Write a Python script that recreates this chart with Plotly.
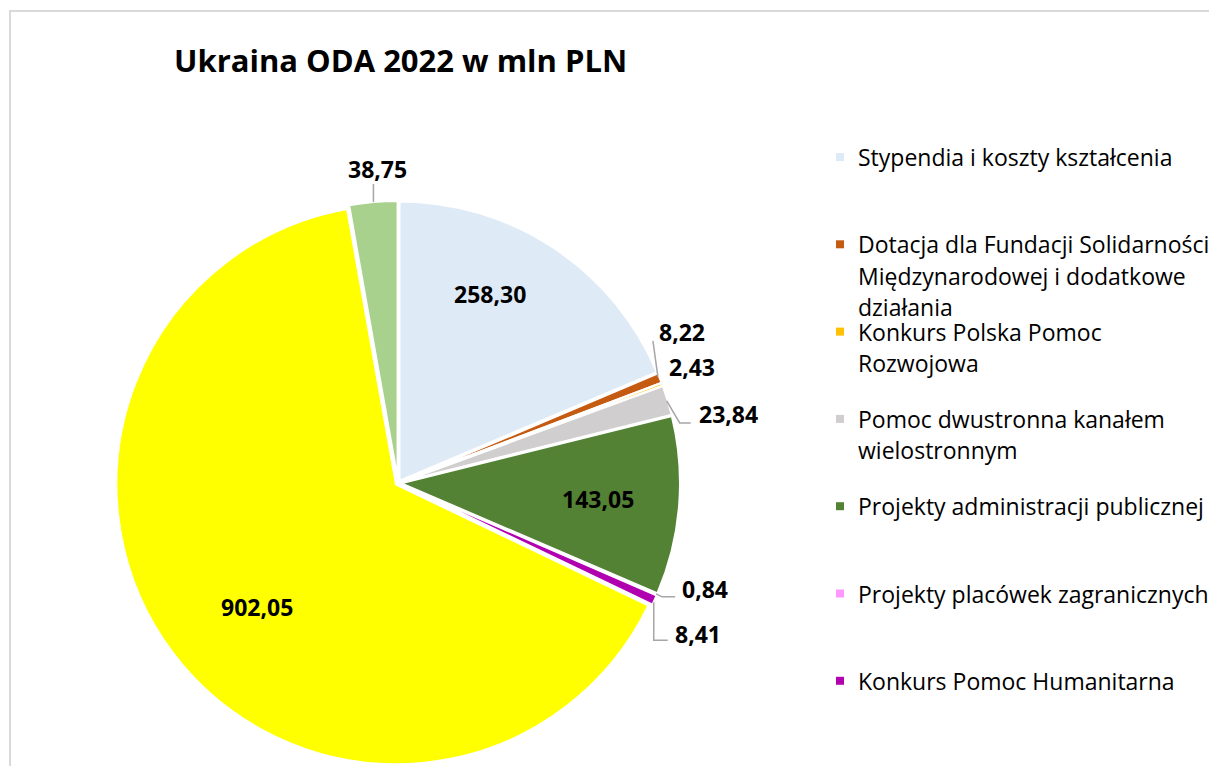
import math
import plotly.graph_objects as go

# ---------------- data ----------------
categories = [
    "Stypendia i koszty kształcenia",
    "Dotacja dla Fundacji Solidarności<br>Międzynarodowej i dodatkowe<br>działania",
    "Konkurs Polska Pomoc<br>Rozwojowa",
    "Pomoc dwustronna kanałem<br>wielostronnym",
    "Projekty administracji publicznej",
    "Projekty placówek zagranicznych",
    "Konkurs Pomoc Humanitarna",
    "Pozostała pomoc",
    "Inne działania",
]
values = [258.30, 8.22, 2.43, 23.84, 143.05, 0.84, 8.41, 902.05, 38.75]
colors = ["#DEEBF7", "#C55A11", "#FFC000", "#D0CECE", "#548235",
          "#FF99FF", "#B000B0", "#FFFF00", "#A9D18E"]
title_text = "Ukraina ODA 2022 w mln PLN"
legend_count = 7  # entries visible in the legend area

# ---------------- layout geometry (pixels) ----------------
W, H = 1209, 766
CX, CY, R = 398, 483, 280
PULL = 0.008
FONT = "Open Sans"

def px(x):
    return min(1.0, max(0.0, x / W))

def py(y):
    return min(1.0, max(0.0, 1 - y / H))

Rdom = R * (1 + PULL)
fig = go.Figure()
fig.add_trace(go.Pie(
    labels=categories,
    values=values,
    sort=False,
    direction="clockwise",
    rotation=0,
    marker=dict(colors=colors, line=dict(color="white", width=2.5)),
    pull=[PULL] * len(values),
    textinfo="none",
    hoverinfo="label+value",
    showlegend=False,
    domain=dict(x=[px(CX - Rdom), px(CX + Rdom)], y=[py(CY + Rdom), py(CY - Rdom)]),
))

total = sum(values)
cum = []
acc = 0
for v in values:
    cum.append(acc)
    acc += v

def mid_angle(i):
    return 2 * math.pi * (cum[i] + values[i] / 2) / total

def polar(i, frac, dang_deg=0.0):
    a = mid_angle(i) + math.radians(dang_deg)
    return CX + frac * R * math.sin(a), CY - frac * R * math.cos(a)

def fmt(v):
    return f"{v:.2f}".replace(".", ",")

label_font = dict(family=FONT, size=23, color="black")
annotations = []
shapes = []

# inside labels: (index, radial fraction, angular shift)
inside = [(0, 0.75, -7.5), (4, 0.715, 0.0), (7, 0.67, -4.0)]
for i, fr, da in inside:
    x, y = polar(i, fr, da)
    annotations.append(dict(x=px(x), y=py(y), xref="paper", yref="paper",
                            text=f"<b>{fmt(values[i])}</b>", showarrow=False,
                            xanchor="center", yanchor="middle", font=label_font))

# outside labels: (index, text offset, anchor, leader path offsets)
outside = [
    (8, (4, -35), "center", [(0, -2), (0, -20)]),
    (1, (-1, -47), "left", [(0, -2), (-5, -38)]),
    (2, (7, -18), "left", []),
    (3, (31, 13), "left", [(1, 0), (14, 22), (25, 22)]),
    (5, (25, -5), "left", [(1, 0), (7, 3), (20, 3)]),
    (6, (20, 35), "left", [(1, 3), (1, 41), (15, 41)]),
]
for i, (dx, dy), anc, path in outside:
    x0, y0 = polar(i, 1.0)
    annotations.append(dict(x=px(x0 + dx), y=py(y0 + dy), xref="paper", yref="paper",
                            text=f"<b>{fmt(values[i])}</b>", showarrow=False,
                            xanchor=anc, yanchor="middle", font=label_font))
    if path:
        d = "M " + " L ".join(f"{px(x0 + ox)},{py(y0 + oy)}" for ox, oy in path)
        shapes.append(dict(type="path", path=d, xref="paper", yref="paper",
                           line=dict(color="#A6A6A6", width=1.5)))

# legend (drawn manually to match spacing)
LX_SQ, LX_TXT, LY0, LSTEP, LLINE = 836, 856, 157, 87.3, 31.5
for k in range(legend_count):
    ly = LY0 + k * LSTEP
    shapes.append(dict(type="rect", xref="paper", yref="paper",
                       x0=px(LX_SQ), x1=px(LX_SQ + 8), y0=py(ly - 4), y1=py(ly + 4),
                       fillcolor=colors[k], line=dict(width=0)))
    for j, line in enumerate(categories[k].split("<br>")):
        annotations.append(dict(x=px(LX_TXT), y=py(ly + j * LLINE), xref="paper", yref="paper",
                                text=line, showarrow=False, xanchor="left", yanchor="middle",
                                font=dict(family=FONT, size=23, color="black")))

# title
annotations.append(dict(x=px(172), y=py(60), xref="paper", yref="paper",
                        text=f"<b>{title_text}</b>", showarrow=False,
                        xanchor="left", yanchor="middle",
                        font=dict(family=FONT, size=31, color="black")))

# outer frame lines
shapes.append(dict(type="line", xref="paper", yref="paper", x0=px(9), x1=1, y0=py(11), y1=py(11),
                   line=dict(color="#D9D9D9", width=2)))
shapes.append(dict(type="line", xref="paper", yref="paper", x0=px(10), x1=px(10), y0=py(11), y1=0,
                   line=dict(color="#D9D9D9", width=2)))

fig.update_layout(
    width=W, height=H,
    margin=dict(l=0, r=0, t=0, b=0),
    paper_bgcolor="white",
    plot_bgcolor="white",
    annotations=annotations,
    shapes=shapes,
    showlegend=False,
)

fig.write_html(
    "out.html",
    config={"displayModeBar": False},
    post_script="document.body.style.margin='0';document.body.style.overflow='hidden';",
)
